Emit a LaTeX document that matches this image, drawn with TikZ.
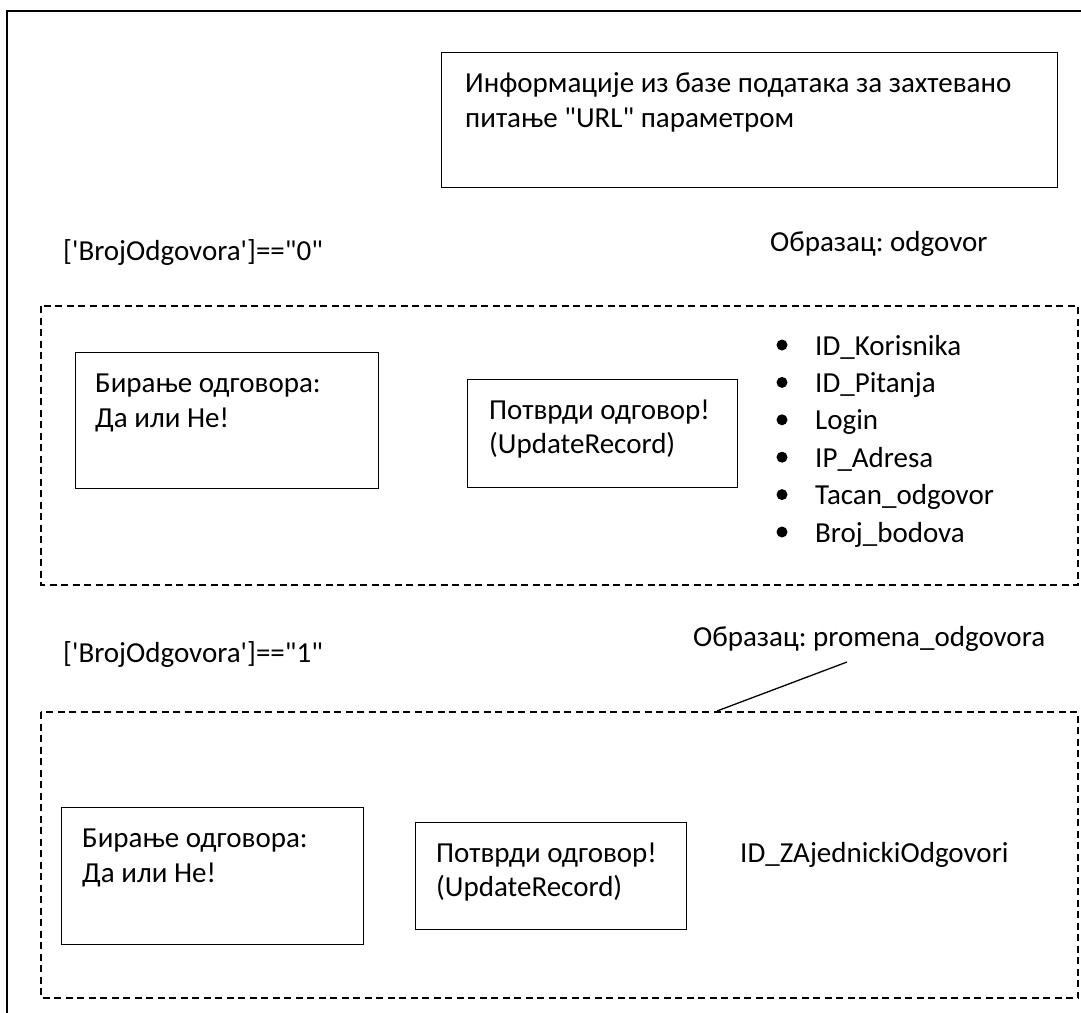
\documentclass[tikz,border=0pt]{standalone}
\usepackage{fontspec}
\setmainfont{Carlito}[Ligatures=TeXOff]
\begin{document}
\frenchspacing
\begin{tikzpicture}[x=1pt,y=-1pt,
  txt/.style={anchor=base west,inner sep=0pt,font=\fontsize{29}{35}\selectfont},
  solidbox/.style={draw,line width=1.3pt,rectangle,inner sep=0pt,anchor=north west},
  groupbox/.style={draw,line width=1.3pt,dash pattern=on 7pt off 4.5pt},
  dot/.style={circle,fill,inner sep=0pt,minimum size=11pt}]
\useasboundingbox (0,0) rectangle (1081,1012);

% page frame (left and top edges)
\draw[line width=2.2pt] (7,1014) -- (7,11) -- (1083,11);

% database info box
\node[solidbox,minimum width=616pt,minimum height=135pt] (info) at (441,52) {};
\node[txt] (info1) at (465,92) {Информације из базе података за захтевано};
\node[txt] (info2) at (465,127) {питање "URL" параметром};

% first case
\node[txt] (cond0) at (63,260) {['BrojOdgovora']=="0"};
\node[txt] (form0) at (770,251) {Образац: odgovor};
\draw[groupbox] (41,306) rectangle (1078,585);
\node[solidbox,minimum width=303pt,minimum height=136pt] (choose0) at (75,352) {};
\node[txt] (choose0a) at (95,392) {Бирање одговора:};
\node[txt] (choose0b) at (95,427) {Да или Не!};
\node[solidbox,minimum width=270pt,minimum height=108pt] (confirm0) at (467,379) {};
\node[txt] (confirm0a) at (489,419) {Потврди одговор!};
\node[txt] (confirm0b) at (489,453) {(UpdateRecord)};
\foreach \name/\lbl [count=\i from 0] in {f1/ID\_Korisnika,f2/ID\_Pitanja,f3/Login,f4/IP\_Adresa,f5/Tacan\_odgovor,f6/Broj\_bodova}{
  \node[txt] (\name) at (815,355+37.4*\i) {\lbl};
  \node[dot] (\name dot) at (782,345+37.4*\i) {};
}

% second case
\node[txt] (cond1) at (63,662) {['BrojOdgovora']=="1"};
\node[txt] (form1) at (693,646) {Образац: promena\_odgovora};
\draw[groupbox] (41,712) rectangle (1078,998);
\coordinate (tipA) at (717,711);
\coordinate (tipB) at (847,662);
\draw[line width=1.3pt] (tipA) -- (tipB);
\node[solidbox,minimum width=302pt,minimum height=137pt] (choose1) at (61,807) {};
\node[txt] (choose1a) at (82,847) {Бирање одговора:};
\node[txt] (choose1b) at (82,882) {Да или Не!};
\node[solidbox,minimum width=271pt,minimum height=107pt] (confirm1) at (415,822) {};
\node[txt] (confirm1a) at (436,862) {Потврди одговор!};
\node[txt] (confirm1b) at (436,896) {(UpdateRecord)};
\node[txt] (idz) at (740,862) {ID\_ZAjednickiOdgovori};
\end{tikzpicture}
\end{document}
